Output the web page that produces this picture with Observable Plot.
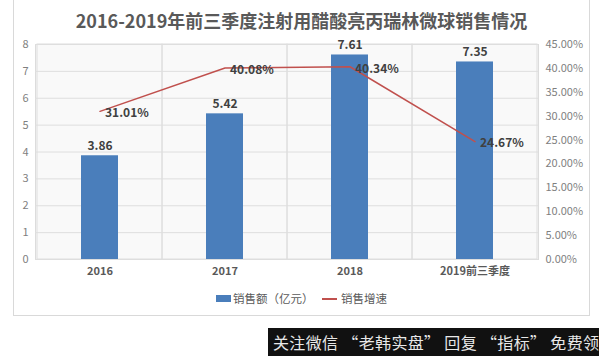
<!DOCTYPE html>
<html><head><meta charset="utf-8">
<script src="https://cdn.jsdelivr.net/npm/d3@7"></script>
<script src="https://cdn.jsdelivr.net/npm/@observablehq/plot@0.6"></script>
<style>
body{margin:0;background:#fff;}
#wrap{position:relative;width:599px;height:356px;overflow:hidden;font-family:"Noto Sans CJK SC",sans-serif;background:#fff;}
#frame{position:absolute;left:13px;top:-1px;width:577px;height:317px;border:1px solid #d9d9d9;box-sizing:border-box;}
#chart{position:absolute;left:0;top:0;}
#title{position:absolute;left:13px;width:577px;top:7px;text-align:center;font-size:18px;font-weight:bold;color:#595959;line-height:26px;white-space:nowrap;}
.lg{position:absolute;font-size:11.5px;color:#595959;line-height:14px;white-space:nowrap;}
#wm{position:absolute;left:268px;top:328px;width:331px;height:28px;background:#111;color:#e8e8e8;font-size:16px;letter-spacing:0.35px;line-height:28px;padding-left:5px;box-sizing:border-box;white-space:nowrap;overflow:hidden;}
</style></head>
<body>
<div id="wrap">
  <div id="frame"></div>
  <div id="chart"></div>
  <div id="title">2016-2019年前三季度注射用醋酸亮丙瑞林微球销售情况</div>
  <div id="legend"></div>
  <div id="wm">关注微信 “老韩实盘” 回复 “指标” 免费领</div>
</div>
<script>
const categories = ["2016", "2017", "2018", "2019前三季度"];
const sales = [3.86, 5.42, 7.61, 7.35];
const growth = [31.01, 40.08, 40.34, 24.67];
const leftTicks = [0, 1, 2, 3, 4, 5, 6, 7, 8];
const rightTicks = [0, 5, 10, 15, 20, 25, 30, 35, 40, 45];
const seriesNames = ["销售额（亿元）", "销售增速"];
const yMax = 8, pctMax = 45;
const barColor = "#4a7ebb", lineColor = "#c0504d";

const data = categories.map((c, i) => ({cat: c, sales: sales[i], growth: growth[i]}));
const toY = p => p * yMax / pctMax;

const chart = Plot.plot({
  width: 599, height: 356,
  marginLeft: 35, marginRight: 61, marginTop: 44, marginBottom: 97,
  style: {fontFamily: '"Noto Sans CJK SC", sans-serif', background: "transparent"},
  x: {domain: categories, padding: 0, label: null},
  y: {domain: [0, yMax], label: null},
  marks: [
    Plot.frame({fill: "#f9f9f9", stroke: "#dcdcdc"}),
    Plot.ruleY(leftTicks, {stroke: "#dedede"}),
    Plot.barY(categories, {x: d => d, y1: 0, y2: yMax, fill: "none", stroke: "#dedede"}),
    Plot.barY(data, {x: "cat", y: "sales", fill: barColor, insetLeft: 44, insetRight: 44}),
    Plot.line(data, {x: "cat", y: d => toY(d.growth), stroke: lineColor, strokeWidth: 1.5}),
    Plot.text(data, {x: "cat", y: "sales", text: d => d.sales.toFixed(2), dy: -10, fontWeight: "bold", fontSize: 12, fill: "#404040"}),
    Plot.text(data, {x: "cat", y: d => toY(d.growth), text: d => d.growth.toFixed(2) + "%", textAnchor: "start", dx: 5, dy: 2, fontWeight: "bold", fontSize: 12, fill: "#404040"}),
    Plot.axisX({tickSize: 0, tickPadding: 8, fontSize: 11, fontWeight: "bold", fill: "#595959", label: null}),
    Plot.axisY({ticks: leftTicks, anchor: "left", tickSize: 0, tickPadding: 10, textAnchor: "middle", fontSize: 11, fill: "#7f7f7f", label: null}),
    Plot.axisY({ticks: rightTicks.map(toY), anchor: "right", tickSize: 0, tickPadding: 7, textAnchor: "start", fontSize: 11, fill: "#7f7f7f", label: null, tickFormat: d => (d * pctMax / yMax).toFixed(2) + "%"})
  ]
});
document.getElementById("chart").appendChild(chart);

const lg = document.getElementById("legend");
lg.innerHTML =
  `<div style="position:absolute;left:216px;top:295px;width:15px;height:7px;background:${barColor}"></div>` +
  `<div class="lg" style="left:233px;top:291px">${seriesNames[0]}</div>` +
  `<div style="position:absolute;left:322px;top:298px;width:15px;height:1.5px;background:${lineColor}"></div>` +
  `<div class="lg" style="left:341px;top:291px">${seriesNames[1]}</div>`;
</script>
</body></html>
